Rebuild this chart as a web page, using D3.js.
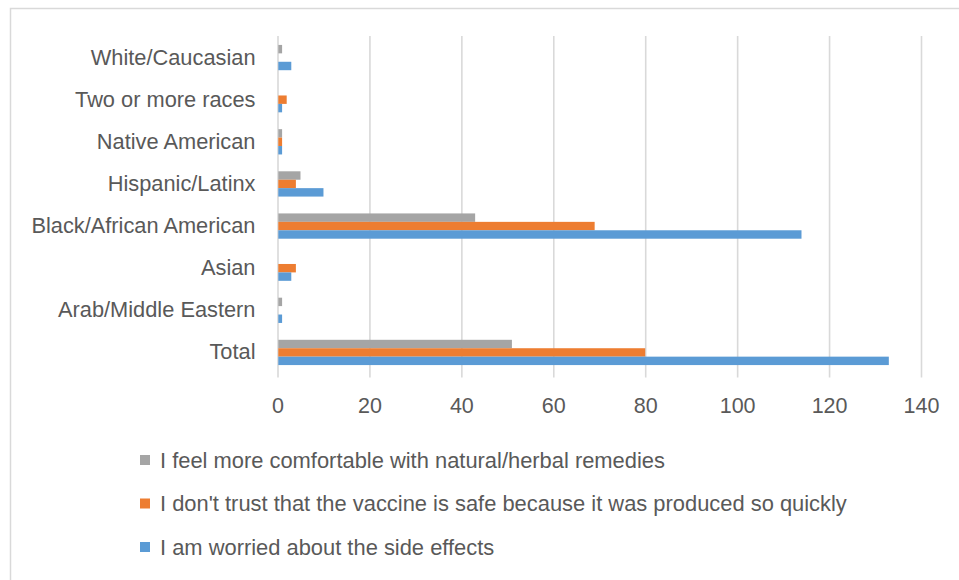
<!DOCTYPE html>
<html><head><meta charset="utf-8">
<script src="https://cdn.jsdelivr.net/npm/d3@7"></script>
<style>html,body{margin:0;padding:0;background:#fff;}svg{display:block;}</style>
</head><body>
<svg id="c" width="959" height="580"></svg>
<script>
const categories = ["White/Caucasian","Two or more races","Native American","Hispanic/Latinx","Black/African American","Asian","Arab/Middle Eastern","Total"];
const seriesNames = ["I feel more comfortable with natural/herbal remedies","I don't trust that the vaccine is safe because it was produced so quickly","I am worried about the side effects"];
const naturalRemedies = [1,0,1,5,43,0,1,51];
const notTrustSafe   = [0,2,1,4,69,4,0,80];
const sideEffects    = [3,1,1,10,114,3,1,133];
const xTicks = [0,20,40,60,80,100,120,140];
const colors = ["#a5a5a5","#ed7d31","#5b9bd5"];

const seriesValues = [naturalRemedies, notTrustSafe, sideEffects];
const svg = d3.select("#c");
const font = "'Liberation Sans', Arial, sans-serif";
const textColor = "#595959";

// chart border
svg.append("rect").attr("x",10.5).attr("y",8.5).attr("width",1000).attr("height",1000)
  .attr("fill","#fff").attr("stroke","#d9d9d9").attr("stroke-width",1.5);

const x = d3.scaleLinear().domain([0,140]).range([277.5,921]);
const y = d3.scaleBand().domain(categories).range([36.5,373.5]).padding(0);
const inner = d3.scaleBand().domain(d3.range(3)).range([y.bandwidth()*0.2, y.bandwidth()*0.8]).padding(0);

// gridlines + tick labels
const xAxis = d3.axisBottom(x).tickValues(xTicks).tickSize(-(373.5-36.5)).tickSizeOuter(0).tickPadding(20);
const gx = svg.append("g").attr("transform","translate(0,377.5)").call(xAxis);
gx.select(".domain").remove();
gx.selectAll(".tick line").attr("stroke","#d9d9d9").attr("stroke-width",1.6).attr("y2",-(377.5-36));
gx.selectAll(".tick text").attr("fill",textColor).style("font-family",font).style("font-size","21.5px");

// bars
categories.forEach((c,i)=>{
  const g = svg.append("g").attr("transform",`translate(0,${y(c)})`);
  seriesValues.forEach((vals,s)=>{
    g.append("rect")
      .attr("x",x(0)+0.8)
      .attr("y",inner(s))
      .attr("width",Math.max(0,x(vals[i])-x(0)-0.8))
      .attr("height",inner.bandwidth())
      .attr("fill",colors[s]);
  });
});

// category labels
const yAxis = d3.axisLeft(y).tickSize(0).tickPadding(22);
const gy = svg.append("g").attr("transform",`translate(${x(0)},0)`).call(yAxis);
gy.select(".domain").remove();
gy.selectAll(".tick text").attr("fill",textColor).style("font-family",font).style("font-size","21.8px");

// legend
const legendY = [460,503.5,547];
seriesNames.forEach((n,s)=>{
  const lg = svg.append("g").attr("transform",`translate(140,${legendY[s]})`);
  lg.append("rect").attr("x",0).attr("y",-5).attr("width",10).attr("height",10).attr("fill",colors[s]);
  lg.append("text").attr("x",20).attr("y",0).attr("dy","0.35em")
    .attr("fill",textColor).style("font-family",font).style("font-size","21.9px").text(n);
});
</script>
</body></html>
